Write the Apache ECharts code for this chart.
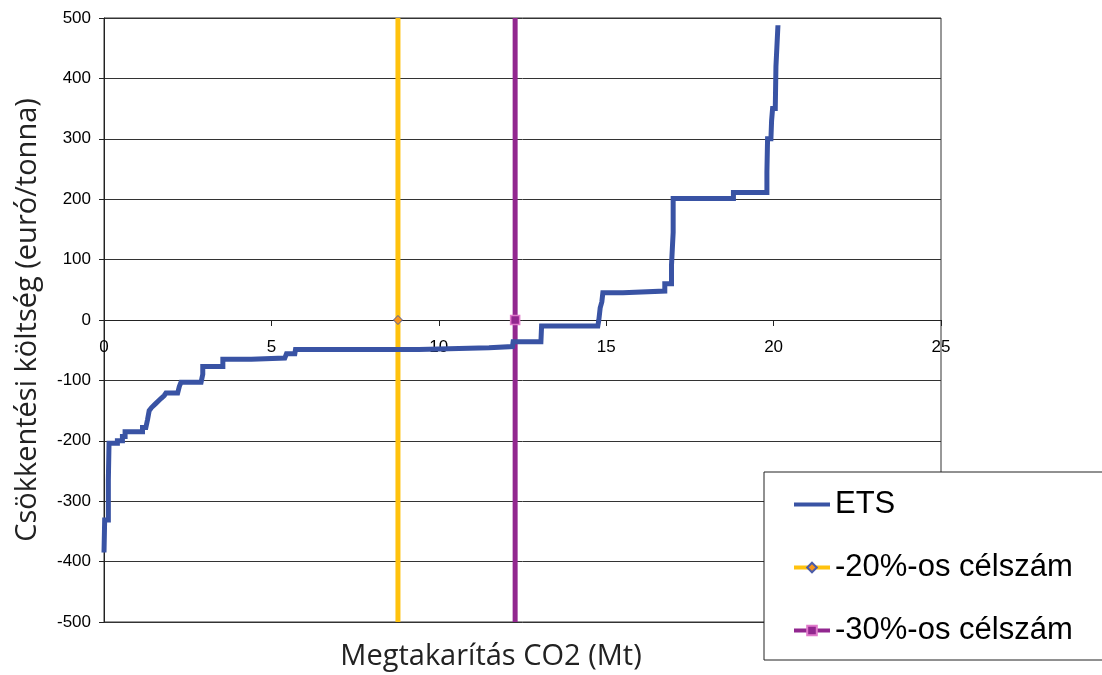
<!DOCTYPE html>
<html>
<head>
<meta charset="utf-8">
<script src="https://cdn.jsdelivr.net/npm/echarts@6/dist/echarts.min.js"></script>
<style>html,body{margin:0;padding:0;background:#fff}#c{width:1102px;height:675px}</style>
</head>
<body>
<div id="c"></div>
<script>
// ETS marginal abatement cost curve vertices (Mt CO2, euro/tonna)
var etsX = [0, 0.02, 0.02, 0.13, 0.13, 0.15, 0.15, 0.4, 0.4, 0.55, 0.55, 0.63, 0.63, 1.15, 1.15, 1.25, 1.3, 1.35, 1.42, 1.55, 1.7, 1.8, 1.85, 2.2, 2.25, 2.3, 2.9, 2.95, 2.95, 3.55, 3.55, 4.4, 4.45, 5.4, 5.45, 5.7, 5.72, 9.4, 9.45, 11.5, 12.2, 12.22, 13.05, 13.07, 14.75, 14.78, 14.82, 14.87, 14.9, 15.5, 15.55, 16.75, 16.75, 16.95, 16.95, 17.0, 17.0, 18.8, 18.8, 19.8, 19.8, 19.82, 19.92, 19.94, 19.97, 20.05, 20.07, 20.1, 20.13];
var etsY = [-385, -385, -331, -331, -265, -265, -204, -204, -200, -200, -193, -193, -185, -185, -178, -178, -165, -150, -145, -138, -130, -125, -121, -121, -110, -103, -103, -90, -77, -77, -65, -65, -63, -63, -56, -56, -49, -49, -47, -46, -44, -36, -36, -10, -10, 0, 20, 30, 45, 45, 48, 48, 60, 60, 90, 145, 201, 201, 211, 211, 245, 300, 300, 330, 350, 350, 420, 420, 488];
var target20X = 8.78;
var target30X = 12.28;
var targetY = [-500, 0, 500];
var xTicks = [0, 5, 10, 15, 20, 25];
var yTicks = [-500, -400, -300, -200, -100, 0, 100, 200, 300, 400, 500];

var etsData = etsX.map(function (x, i) { return [x, etsY[i]]; });
function vline(x) {
  return targetY.map(function (y) {
    return y === 0 ? { value: [x, y] } : { value: [x, y], symbol: 'none' };
  });
}

var gridTop = 18, gridBottom = 53, H = 675;
var plotH = H - gridTop - gridBottom;
// move the x axis up to the value 0 line
var zeroOffset = -plotH * (0 - yTicks[0]) / (yTicks[yTicks.length - 1] - yTicks[0]);

var chart = echarts.init(document.getElementById('c'), null, { renderer: 'canvas' });
chart.setOption({
  animation: false,
  backgroundColor: '#fff',
  grid: { left: 104, right: 161, top: gridTop, bottom: gridBottom, show: true, borderColor: '#333', borderWidth: 1, backgroundColor: 'transparent' },
  xAxis: {
    type: 'value', min: xTicks[0], max: xTicks[xTicks.length - 1], interval: 5,
    position: 'bottom', offset: zeroOffset,
    axisLine: { onZero: false, lineStyle: { color: '#222', width: 1 } },
    axisTick: { show: true, length: 6, lineStyle: { color: '#222' } },
    axisLabel: { fontFamily: 'Liberation Sans', fontSize: 17, color: '#000', margin: 19 },
    splitLine: { show: false }
  },
  yAxis: {
    type: 'value', min: yTicks[0], max: yTicks[yTicks.length - 1], interval: 100,
    name: 'Csökkentési költség (euró/tonna)', nameLocation: 'middle', nameGap: 62,
    nameTextStyle: { fontFamily: 'Open Sans', fontSize: 29, color: '#222' },
    axisLine: { show: true, lineStyle: { color: '#222', width: 1 } },
    axisTick: { show: true, length: 5, lineStyle: { color: '#222' } },
    axisLabel: { fontFamily: 'Liberation Sans', fontSize: 17, color: '#000', margin: 13 },
    splitLine: { show: true, lineStyle: { color: '#333', width: 1 } }
  },
  graphic: [{
    type: 'text', x: 491, y: 657,
    style: { text: 'Megtakarítás CO2 (Mt)', fontFamily: 'Open Sans', fontSize: 29, fill: '#222', textAlign: 'center', textVerticalAlign: 'middle' }
  }],
  legend: {
    orient: 'vertical', left: 764, top: 472,
    padding: [17, 30, 14, 28], itemGap: 32,
    itemWidth: 36, itemHeight: 12,
    borderColor: '#222', borderWidth: 1, backgroundColor: '#fff', borderRadius: 0,
    textStyle: { fontFamily: 'Liberation Sans', fontSize: 31, lineHeight: 31, color: '#000' },
    data: [
      { name: 'ETS', itemStyle: { opacity: 0 }, lineStyle: { width: 4 } },
      { name: '-20%-os célszám', lineStyle: { width: 4 } },
      { name: '-30%-os célszám', lineStyle: { width: 4 } }
    ]
  },
  series: [
    {
      name: '-20%-os célszám', type: 'line', data: vline(target20X), z: 2,
      symbol: 'diamond', symbolSize: 9,
      lineStyle: { color: '#FFC20E', width: 5 },
      itemStyle: { color: '#F7941D', borderColor: '#4A5BA8', borderWidth: 1 }
    },
    {
      name: '-30%-os célszám', type: 'line', data: vline(target30X), z: 2,
      symbol: 'rect', symbolSize: 9,
      lineStyle: { color: '#92278F', width: 5 },
      itemStyle: { color: '#92278F', borderColor: '#E07ACB', borderWidth: 1.5 }
    },
    {
      name: 'ETS', type: 'line', data: etsData, z: 3,
      symbol: 'none', showSymbol: false,
      lineStyle: { color: '#3953A4', width: 5, join: 'miter' },
      itemStyle: { color: '#3953A4' }
    }
  ]
});
</script>
</body>
</html>
